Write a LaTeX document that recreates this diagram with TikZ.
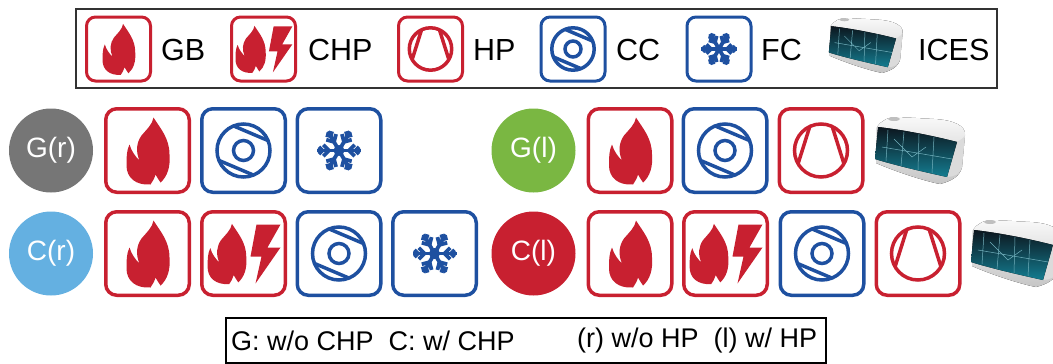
\documentclass[tikz,border=0pt]{standalone}
\usepackage{fontspec}
\setmainfont{Liberation Sans}

\definecolor{chpred}{RGB}{200,32,48}
\definecolor{ccblue}{RGB}{30,80,160}
\definecolor{dotgray}{RGB}{118,118,118}
\definecolor{dotgreen}{RGB}{122,183,66}
\definecolor{dotblue}{RGB}{100,176,225}
\definecolor{glassdark}{RGB}{12,22,30}
\definecolor{glassteal}{RGB}{20,125,145}

% flame, drawn with y pointing up
\newcommand\drawflame{%
  \fill[chpred] (6,33) .. controls (13,22) and (22,12) .. (22,-4)
    .. controls (23,-16) and (20,-26) .. (13,-32)
    .. controls (11,-29) and (9,-26) .. (8,-24)
    .. controls (7,-28) and (5,-31) .. (3,-34)
    .. controls (-12,-35) and (-21,-27) .. (-21,-15)
    .. controls (-21,-7) and (-21,0) .. (-18,6)
    .. controls (-16,-1) and (-12,-6) .. (-8,-10)
    .. controls (-12,-1) and (-11,8) .. (-6,15)
    .. controls (-1,21) and (5,26) .. (6,33) -- cycle;}

\tikzset{
  unitbox/.style={line width=3.5pt, rounded corners=11pt, minimum size=83.5pt, inner sep=0pt},
  keybox/.style={line width=3pt, rounded corners=9pt, minimum size=64pt, inner sep=0pt},
  keytext/.style={font=\fontsize{30.5}{36}\selectfont, inner sep=0pt, anchor=west},
  notetext/.style={font=\fontsize{27}{32}\selectfont, inner sep=0pt, anchor=west},
  sysdot/.style={circle, minimum size=84pt, inner sep=0pt, text=white, font=\fontsize{28}{32}\selectfont},
  pics/flame/.style={code={\begin{scope}[yscale=-1]\drawflame\end{scope}}},
  pics/chpicon/.style={code={
    \begin{scope}[yscale=-1]
      \begin{scope}[shift={(-17,0)}, scale=0.9]\drawflame\end{scope}
      \fill[chpred] (13,29) -- (37,29) -- (24,6) -- (37,6) -- (12,-30) -- (18,-3) -- (7,-3) -- cycle;
    \end{scope}}},
  pics/hpicon/.style={code={
    \begin{scope}[yscale=-1, chpred, line width=3.5pt]
      \draw (0,0) circle (26.5);
      \draw (115:26.5) -- (210:26.5);
      \draw (65:26.5) -- (330:26.5);
    \end{scope}}},
  pics/ccicon/.style={code={
    \begin{scope}[yscale=-1, ccblue, line width=3.5pt]
      \draw (0,0) circle (26.5);
      \draw (0,0) circle (10);
      \draw (112:26.5) -- (22:26.5);
      \draw (292:26.5) -- (202:26.5);
    \end{scope}}},
  pics/fcicon/.style={code={
    \begin{scope}[ccblue, line width=3.8pt]
      \fill (0,0) circle (5.5);
      \foreach \a in {0,60,...,300}{
        \draw (0,0) -- (\a:22);
        \draw (\a:10) -- ++(\a+45:8);
        \draw (\a:10) -- ++(\a-45:8);
        \draw (\a:16.5) -- ++(\a+45:5);
        \draw (\a:16.5) -- ++(\a-45:5);
      }
    \end{scope}}},
  pics/ices/.style={code={
    % housing
    \fill[top color=gray!5, bottom color=gray!45] (3,10) .. controls (8,3) and (14,0) .. (24,0)
      -- (60,2) .. controls (80,3) and (92,9) .. (91,18) -- (88,50)
      .. controls (86,59) and (78,64) .. (66,67) .. controls (50,64) and (20,54) .. (2,46) -- cycle;
    \fill[gray!28] (83,25) .. controls (88,22) and (91,20) .. (91,18) -- (88,50)
      .. controls (86,57) and (80,60) .. (73,60) -- cycle;
    % glass front
    \fill[top color=glassdark, bottom color=glassteal] (4,10) .. controls (30,13) and (60,19) .. (83,25)
      -- (73,60) .. controls (50,55) and (20,48) .. (1,42) -- cycle;
    \draw[glassteal!60!white, line width=0.5pt] (14,13) -- (12,44) (30,15) -- (27,49) (45,17) -- (44,53)
      (60,20) -- (58,56) (8,30) -- (78,42) (20,22) -- (38,40) -- (52,30);
    \fill[gray!50] (20,2) ellipse (6 and 2);
  }},
}

\begin{document}
\begin{tikzpicture}[x=1pt, y=-1pt]
\useasboundingbox (0,0) rectangle (1053,364);

% key of units
\node[draw=black!80, line width=2pt, minimum width=921pt, minimum height=79pt] (key) at (536.5,48.5) {};
\node[keybox, draw=chpred] (kgb) at (118.5,49) {};
\pic[scale=0.76] at (kgb) {flame};
\node[keytext] (kgbtxt) at (161,50) {GB};
\node[keybox, draw=chpred] (kchp) at (263.5,49) {};
\pic[scale=0.78] at (kchp) {chpicon};
\node[keytext] (kchptxt) at (308,50) {CHP};
\node[keybox, draw=chpred] (khp) at (430.5,49) {};
\pic[scale=0.8] at (khp) {hpicon};
\node[keytext] (khptxt) at (473,50) {HP};
\node[keybox, draw=ccblue] (kcc) at (573,49) {};
\pic[scale=0.8] at (kcc) {ccicon};
\node[keytext] (kcctxt) at (616,50) {CC};
\node[keybox, draw=ccblue] (kfc) at (719,49) {};
\pic[scale=0.8] at (kfc) {fcicon};
\node[keytext] (kfctxt) at (761,50) {FC};
\pic[scale=0.82] (kices) at (828,18) {ices};
\node[keytext] (kicestxt) at (918,50) {ICES};

% G(r)
\node[sysdot, fill=dotgray] (gr) at (51,150.5) {G(r)};
\node[unitbox, draw=chpred] (grgb) at (147.5,150.5) {};
\pic at (grgb) {flame};
\node[unitbox, draw=ccblue] (grcc) at (243.5,150.5) {};
\pic at (grcc) {ccicon};
\node[unitbox, draw=ccblue] (grfc) at (339,150.5) {};
\pic at (grfc) {fcicon};

% C(r)
\node[sysdot, fill=dotblue] (cr) at (51,253.5) {C(r)};
\node[unitbox, draw=chpred] (crgb) at (147.5,253.5) {};
\pic at (crgb) {flame};
\node[unitbox, draw=chpred] (crchp) at (243.5,253.5) {};
\pic at (crchp) {chpicon};
\node[unitbox, draw=ccblue] (crcc) at (339,253.5) {};
\pic at (crcc) {ccicon};
\node[unitbox, draw=ccblue] (crfc) at (434.5,253.5) {};
\pic at (crfc) {fcicon};

% G(l)
\node[sysdot, fill=dotgreen] (gl) at (533.5,150.5) {G(l)};
\node[unitbox, draw=chpred] (glgb) at (630,150.5) {};
\pic at (glgb) {flame};
\node[unitbox, draw=ccblue] (glcc) at (725,150.5) {};
\pic at (glcc) {ccicon};
\node[unitbox, draw=chpred] (glhp) at (821,150.5) {};
\pic at (glhp) {hpicon};
\pic (glices) at (874,117) {ices};

% C(l)
\node[sysdot, fill=chpred] (cl) at (533.5,253.5) {C(l)};
\node[unitbox, draw=chpred] (clgb) at (630,253.5) {};
\pic at (clgb) {flame};
\node[unitbox, draw=chpred] (clchp) at (725.5,253.5) {};
\pic at (clchp) {chpicon};
\node[unitbox, draw=ccblue] (clcc) at (822,253.5) {};
\pic at (clcc) {ccicon};
\node[unitbox, draw=chpred] (clhp) at (918,253.5) {};
\pic at (clhp) {hpicon};
\pic (clices) at (970,220) {ices};

% naming note
\node[draw=black, line width=1.5pt, minimum width=600pt, minimum height=45pt] (note) at (526,340.5) {};
\node[notetext] (notecap) at (231,341) {G: w/o CHP\hspace{0.55em}C: w/ CHP};
\node[notetext] (notehp) at (577,341) {(r) w/o HP\hspace{0.55em}(l) w/ HP};
\end{tikzpicture}
\end{document}
